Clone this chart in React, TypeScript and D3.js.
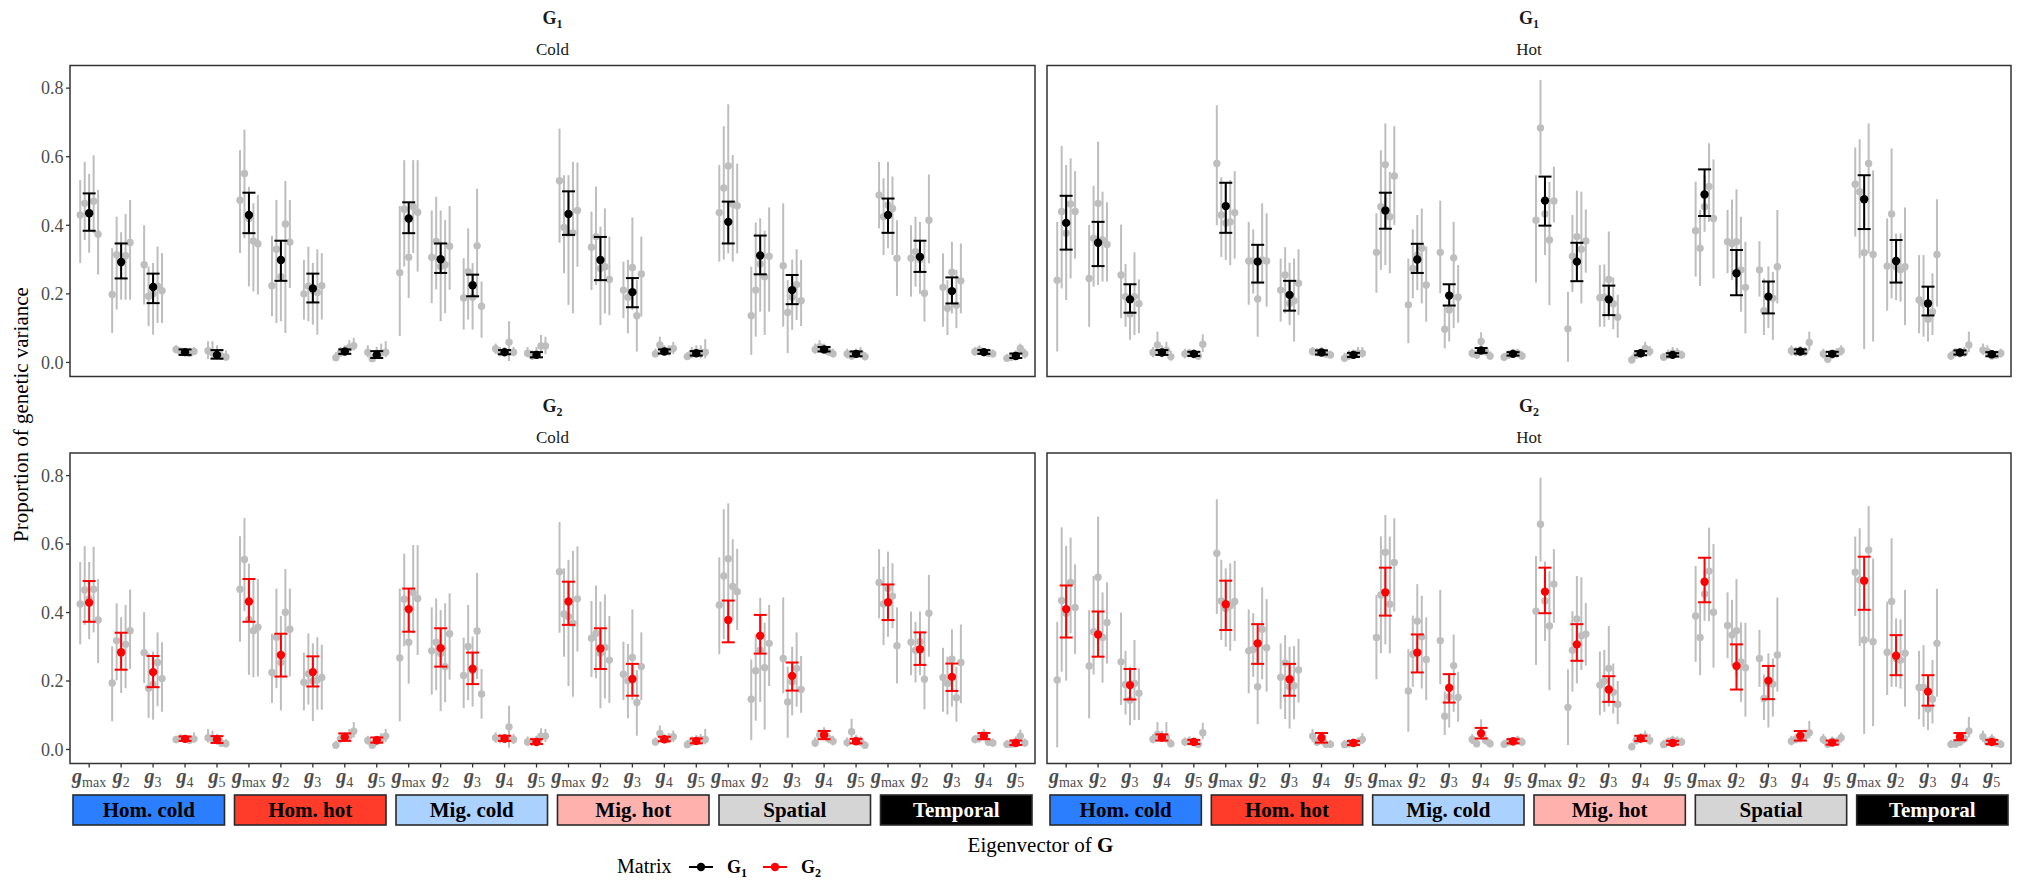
import React from 'react';
import * as d3 from 'd3';

const vectorSubs = ['max', '2', '3', '4', '5'];
const groups = ['Hom. cold', 'Hom. hot', 'Mig. cold', 'Mig. hot', 'Spatial', 'Temporal'];
const groupFill = ['#2B7FFF', '#FF3B29', '#ABD1FF', '#FFB2AD', '#D5D5D5', '#000000'];
const groupTextColor = ['#000000', '#000000', '#000000', '#000000', '#000000', '#FFFFFF'];
const temps = ['Cold', 'Hot'];
const matrices = ['1', '2'];
const matrixColors = ['#000000', '#FF0000'];
const yTicks = [0, 0.2, 0.4, 0.6, 0.8];

type Rep = [number, number, number];

// ---------- G1, Cold ----------
const g1ColdMean = [0.435, 0.293, 0.22, 0.03, 0.022, 0.43, 0.299, 0.216, 0.032, 0.022, 0.42, 0.301, 0.225, 0.03, 0.022, 0.433, 0.299, 0.205, 0.032, 0.027, 0.41, 0.312, 0.211, 0.038, 0.025, 0.43, 0.308, 0.208, 0.03, 0.019];
const g1ColdLo = [0.384, 0.245, 0.173, 0.022, 0.011, 0.377, 0.238, 0.175, 0.025, 0.013, 0.377, 0.261, 0.193, 0.024, 0.015, 0.372, 0.24, 0.161, 0.026, 0.02, 0.347, 0.257, 0.17, 0.032, 0.018, 0.378, 0.264, 0.172, 0.025, 0.013];
const g1ColdHi = [0.493, 0.347, 0.259, 0.038, 0.036, 0.495, 0.355, 0.259, 0.038, 0.033, 0.467, 0.347, 0.256, 0.036, 0.03, 0.499, 0.366, 0.246, 0.038, 0.033, 0.469, 0.37, 0.255, 0.045, 0.032, 0.478, 0.355, 0.248, 0.036, 0.026];
const g1ColdReps: Rep[][] = [
  [[0.43, 0.29, 0.532], [0.464, 0.357, 0.585], [0.437, 0.32, 0.55], [0.47, 0.377, 0.604], [0.374, 0.256, 0.503]],
  [[0.198, 0.086, 0.333], [0.314, 0.154, 0.425], [0.29, 0.183, 0.38], [0.311, 0.183, 0.433], [0.35, 0.183, 0.474]],
  [[0.285, 0.169, 0.4], [0.193, 0.106, 0.28], [0.2, 0.081, 0.29], [0.222, 0.115, 0.338], [0.209, 0.115, 0.319]],
  [[0.038, 0.026, 0.05], [0.032, 0.022, 0.044], [0.029, 0.02, 0.04], [0.026, 0.018, 0.036], [0.032, 0.022, 0.045]],
  [[0.034, 0.01, 0.062], [0.028, 0.01, 0.062], [0.022, 0.008, 0.05], [0.018, 0.008, 0.04], [0.016, 0.006, 0.035]],
  [[0.473, 0.319, 0.619], [0.551, 0.362, 0.679], [0.42, 0.222, 0.512], [0.354, 0.207, 0.464], [0.346, 0.198, 0.488]],
  [[0.224, 0.135, 0.369], [0.33, 0.115, 0.474], [0.25, 0.12, 0.353], [0.404, 0.086, 0.529], [0.351, 0.217, 0.474]],
  [[0.2, 0.125, 0.299], [0.222, 0.12, 0.338], [0.21, 0.11, 0.29], [0.204, 0.081, 0.33], [0.224, 0.125, 0.319]],
  [[0.014, 0.005, 0.03], [0.028, 0.018, 0.045], [0.033, 0.02, 0.05], [0.043, 0.028, 0.065], [0.049, 0.035, 0.072]],
  [[0.03, 0.015, 0.05], [0.011, 0.003, 0.025], [0.026, 0.012, 0.045], [0.028, 0.015, 0.055], [0.03, 0.015, 0.062]],
  [[0.262, 0.077, 0.456], [0.447, 0.28, 0.59], [0.307, 0.188, 0.41], [0.454, 0.319, 0.59], [0.438, 0.265, 0.59]],
  [[0.307, 0.173, 0.443], [0.353, 0.213, 0.483], [0.28, 0.12, 0.443], [0.285, 0.144, 0.415], [0.339, 0.212, 0.456]],
  [[0.188, 0.096, 0.304], [0.265, 0.125, 0.391], [0.19, 0.096, 0.29], [0.34, 0.188, 0.507], [0.164, 0.072, 0.236]],
  [[0.04, 0.025, 0.055], [0.03, 0.018, 0.045], [0.028, 0.015, 0.045], [0.059, 0.004, 0.12], [0.03, 0.018, 0.045]],
  [[0.027, 0.015, 0.045], [0.019, 0.008, 0.035], [0.025, 0.01, 0.045], [0.048, 0.03, 0.08], [0.048, 0.025, 0.075]],
  [[0.53, 0.349, 0.682], [0.394, 0.26, 0.546], [0.377, 0.168, 0.546], [0.378, 0.143, 0.585], [0.443, 0.279, 0.583]],
  [[0.336, 0.211, 0.44], [0.367, 0.226, 0.513], [0.274, 0.109, 0.396], [0.279, 0.143, 0.449], [0.242, 0.138, 0.367]],
  [[0.211, 0.129, 0.294], [0.19, 0.085, 0.299], [0.277, 0.153, 0.423], [0.136, 0.032, 0.24], [0.258, 0.134, 0.367]],
  [[0.025, 0.015, 0.04], [0.051, 0.03, 0.075], [0.033, 0.02, 0.05], [0.036, 0.02, 0.05], [0.041, 0.025, 0.06]],
  [[0.017, 0.008, 0.03], [0.027, 0.012, 0.045], [0.03, 0.015, 0.05], [0.03, 0.012, 0.05], [0.03, 0.012, 0.068]],
  [[0.437, 0.294, 0.576], [0.509, 0.3, 0.689], [0.573, 0.318, 0.753], [0.462, 0.294, 0.605], [0.457, 0.318, 0.58]],
  [[0.136, 0.022, 0.279], [0.211, 0.075, 0.408], [0.287, 0.148, 0.42], [0.25, 0.08, 0.384], [0.31, 0.148, 0.452]],
  [[0.282, 0.104, 0.464], [0.146, 0.027, 0.24], [0.19, 0.095, 0.3], [0.227, 0.124, 0.33], [0.18, 0.106, 0.299]],
  [[0.038, 0.025, 0.055], [0.046, 0.03, 0.065], [0.04, 0.025, 0.055], [0.031, 0.02, 0.045], [0.025, 0.015, 0.04]],
  [[0.025, 0.012, 0.04], [0.019, 0.008, 0.035], [0.025, 0.012, 0.04], [0.027, 0.014, 0.045], [0.017, 0.006, 0.03]],
  [[0.488, 0.391, 0.585], [0.425, 0.313, 0.537], [0.459, 0.333, 0.585], [0.449, 0.313, 0.542], [0.304, 0.194, 0.415]],
  [[0.304, 0.192, 0.4], [0.323, 0.221, 0.425], [0.3, 0.2, 0.41], [0.202, 0.119, 0.352], [0.415, 0.289, 0.548]],
  [[0.219, 0.104, 0.318], [0.158, 0.08, 0.24], [0.263, 0.143, 0.352], [0.167, 0.1, 0.27], [0.238, 0.143, 0.347]],
  [[0.031, 0.02, 0.045], [0.036, 0.022, 0.05], [0.029, 0.018, 0.042], [0.027, 0.016, 0.04], [0.025, 0.015, 0.038]],
  [[0.012, 0.004, 0.025], [0.015, 0.006, 0.028], [0.022, 0.01, 0.035], [0.041, 0.028, 0.055], [0.025, 0.012, 0.04]],
];

// ---------- G1, Hot ----------
const g1HotMean = [0.407, 0.349, 0.184, 0.029, 0.025, 0.456, 0.294, 0.197, 0.029, 0.022, 0.443, 0.3, 0.195, 0.035, 0.025, 0.472, 0.294, 0.184, 0.027, 0.022, 0.49, 0.26, 0.192, 0.032, 0.025, 0.476, 0.296, 0.172, 0.029, 0.024];
const g1HotLo = [0.329, 0.281, 0.145, 0.022, 0.019, 0.378, 0.233, 0.151, 0.023, 0.016, 0.39, 0.261, 0.166, 0.028, 0.02, 0.399, 0.237, 0.138, 0.021, 0.017, 0.427, 0.196, 0.143, 0.026, 0.019, 0.389, 0.233, 0.137, 0.023, 0.018];
const g1HotHi = [0.486, 0.41, 0.228, 0.036, 0.031, 0.524, 0.343, 0.238, 0.035, 0.028, 0.495, 0.346, 0.228, 0.042, 0.03, 0.542, 0.349, 0.224, 0.033, 0.027, 0.563, 0.328, 0.236, 0.038, 0.031, 0.546, 0.357, 0.221, 0.035, 0.03];
const g1HotReps: Rep[][] = [
  [[0.24, 0.032, 0.41], [0.44, 0.216, 0.631], [0.377, 0.182, 0.576], [0.462, 0.245, 0.595], [0.44, 0.303, 0.558]],
  [[0.245, 0.104, 0.401], [0.362, 0.221, 0.515], [0.464, 0.226, 0.644], [0.357, 0.236, 0.498], [0.344, 0.236, 0.467]],
  [[0.255, 0.129, 0.402], [0.192, 0.104, 0.287], [0.141, 0.066, 0.226], [0.192, 0.08, 0.321], [0.171, 0.085, 0.242]],
  [[0.029, 0.015, 0.045], [0.051, 0.03, 0.09], [0.03, 0.015, 0.05], [0.036, 0.02, 0.06], [0.017, 0.005, 0.035]],
  [[0.025, 0.012, 0.04], [0.027, 0.015, 0.04], [0.024, 0.012, 0.038], [0.019, 0.008, 0.032], [0.053, 0.03, 0.082]],
  [[0.58, 0.4, 0.75], [0.43, 0.308, 0.54], [0.407, 0.299, 0.517], [0.41, 0.284, 0.532], [0.437, 0.303, 0.558]],
  [[0.296, 0.168, 0.41], [0.296, 0.201, 0.388], [0.185, 0.075, 0.294], [0.299, 0.231, 0.464], [0.296, 0.163, 0.435]],
  [[0.211, 0.119, 0.303], [0.255, 0.143, 0.336], [0.172, 0.109, 0.291], [0.18, 0.061, 0.303], [0.231, 0.138, 0.33]],
  [[0.032, 0.02, 0.045], [0.029, 0.018, 0.042], [0.032, 0.02, 0.045], [0.025, 0.014, 0.04], [0.022, 0.012, 0.035]],
  [[0.012, 0.004, 0.028], [0.019, 0.008, 0.035], [0.022, 0.01, 0.038], [0.027, 0.014, 0.045], [0.027, 0.014, 0.045]],
  [[0.321, 0.203, 0.435], [0.454, 0.27, 0.619], [0.577, 0.284, 0.697], [0.425, 0.26, 0.556], [0.544, 0.401, 0.689]],
  [[0.168, 0.056, 0.303], [0.274, 0.187, 0.388], [0.313, 0.211, 0.43], [0.333, 0.172, 0.449], [0.226, 0.119, 0.338]],
  [[0.321, 0.202, 0.472], [0.097, 0.041, 0.168], [0.153, 0.061, 0.221], [0.305, 0.1, 0.41], [0.19, 0.116, 0.284]],
  [[0.027, 0.014, 0.04], [0.022, 0.01, 0.035], [0.061, 0.035, 0.088], [0.032, 0.02, 0.045], [0.019, 0.008, 0.032]],
  [[0.015, 0.005, 0.028], [0.022, 0.01, 0.035], [0.027, 0.015, 0.04], [0.027, 0.015, 0.04], [0.019, 0.008, 0.032]],
  [[0.415, 0.233, 0.546], [0.684, 0.548, 0.824], [0.433, 0.313, 0.52], [0.357, 0.167, 0.527], [0.471, 0.408, 0.571]],
  [[0.098, 0.002, 0.206], [0.31, 0.206, 0.43], [0.367, 0.242, 0.501], [0.33, 0.172, 0.498], [0.354, 0.262, 0.446]],
  [[0.189, 0.104, 0.284], [0.19, 0.104, 0.286], [0.242, 0.124, 0.382], [0.171, 0.097, 0.248], [0.132, 0.072, 0.197]],
  [[0.007, 0.0, 0.02], [0.022, 0.01, 0.035], [0.027, 0.014, 0.04], [0.041, 0.028, 0.06], [0.032, 0.018, 0.048]],
  [[0.015, 0.006, 0.028], [0.022, 0.01, 0.038], [0.027, 0.014, 0.045], [0.027, 0.014, 0.042], [0.022, 0.01, 0.035]],
  [[0.384, 0.25, 0.527], [0.333, 0.223, 0.445], [0.454, 0.381, 0.546], [0.513, 0.41, 0.639], [0.42, 0.245, 0.592]],
  [[0.352, 0.26, 0.445], [0.347, 0.24, 0.475], [0.352, 0.22, 0.505], [0.27, 0.148, 0.425], [0.219, 0.085, 0.352]],
  [[0.27, 0.192, 0.354], [0.151, 0.08, 0.245], [0.192, 0.1, 0.28], [0.187, 0.066, 0.264], [0.279, 0.172, 0.445]],
  [[0.034, 0.02, 0.05], [0.031, 0.018, 0.045], [0.032, 0.018, 0.048], [0.031, 0.018, 0.045], [0.058, 0.035, 0.09]],
  [[0.025, 0.012, 0.04], [0.009, 0.002, 0.02], [0.022, 0.01, 0.035], [0.027, 0.014, 0.042], [0.034, 0.02, 0.05]],
  [[0.52, 0.367, 0.627], [0.498, 0.304, 0.651], [0.32, 0.039, 0.42], [0.58, 0.318, 0.697], [0.315, 0.061, 0.56]],
  [[0.281, 0.151, 0.42], [0.433, 0.187, 0.624], [0.279, 0.182, 0.376], [0.27, 0.177, 0.376], [0.279, 0.109, 0.452]],
  [[0.182, 0.085, 0.313], [0.172, 0.075, 0.313], [0.126, 0.061, 0.221], [0.148, 0.08, 0.26], [0.315, 0.163, 0.476]],
  [[0.019, 0.008, 0.032], [0.029, 0.016, 0.042], [0.027, 0.014, 0.04], [0.029, 0.016, 0.045], [0.051, 0.03, 0.09]],
  [[0.036, 0.022, 0.055], [0.032, 0.018, 0.05], [0.019, 0.008, 0.032], [0.022, 0.01, 0.035], [0.027, 0.014, 0.04]],
];

// ---------- G2, Cold ----------
const g2ColdMean = [0.429, 0.284, 0.226, 0.031, 0.029, 0.432, 0.276, 0.226, 0.036, 0.027, 0.41, 0.296, 0.236, 0.032, 0.022, 0.432, 0.295, 0.206, 0.03, 0.025, 0.378, 0.332, 0.215, 0.042, 0.024, 0.43, 0.293, 0.212, 0.039, 0.019];
const g2ColdLo = [0.373, 0.233, 0.182, 0.025, 0.019, 0.373, 0.213, 0.184, 0.025, 0.02, 0.344, 0.242, 0.191, 0.025, 0.016, 0.364, 0.235, 0.157, 0.024, 0.018, 0.313, 0.28, 0.172, 0.03, 0.018, 0.378, 0.247, 0.171, 0.03, 0.013];
const g2ColdHi = [0.492, 0.341, 0.273, 0.038, 0.039, 0.498, 0.338, 0.272, 0.047, 0.035, 0.47, 0.354, 0.283, 0.04, 0.03, 0.49, 0.354, 0.25, 0.037, 0.032, 0.435, 0.393, 0.254, 0.054, 0.031, 0.482, 0.342, 0.251, 0.048, 0.026];
const g2ColdReps: Rep[][] = [
  [[0.425, 0.307, 0.548], [0.466, 0.364, 0.594], [0.44, 0.322, 0.548], [0.468, 0.342, 0.592], [0.378, 0.252, 0.498]],
  [[0.194, 0.082, 0.301], [0.318, 0.202, 0.427], [0.28, 0.165, 0.386], [0.307, 0.179, 0.422], [0.347, 0.235, 0.467]],
  [[0.283, 0.194, 0.401], [0.179, 0.092, 0.281], [0.19, 0.087, 0.286], [0.254, 0.126, 0.342], [0.207, 0.11, 0.313]],
  [[0.029, 0.018, 0.04], [0.032, 0.022, 0.045], [0.03, 0.02, 0.042], [0.027, 0.016, 0.04], [0.031, 0.02, 0.05]],
  [[0.034, 0.02, 0.06], [0.031, 0.016, 0.055], [0.027, 0.014, 0.045], [0.019, 0.008, 0.035], [0.017, 0.006, 0.03]],
  [[0.468, 0.315, 0.623], [0.555, 0.404, 0.676], [0.38, 0.218, 0.543], [0.347, 0.211, 0.498], [0.357, 0.213, 0.498]],
  [[0.225, 0.136, 0.338], [0.328, 0.179, 0.47], [0.254, 0.114, 0.39], [0.401, 0.213, 0.527], [0.351, 0.213, 0.47]],
  [[0.196, 0.114, 0.283], [0.221, 0.131, 0.339], [0.2, 0.083, 0.31], [0.204, 0.116, 0.328], [0.21, 0.116, 0.306]],
  [[0.012, 0.004, 0.025], [0.031, 0.018, 0.045], [0.036, 0.022, 0.05], [0.039, 0.025, 0.06], [0.053, 0.035, 0.08]],
  [[0.026, 0.014, 0.04], [0.012, 0.004, 0.025], [0.025, 0.012, 0.04], [0.031, 0.016, 0.048], [0.039, 0.022, 0.06]],
  [[0.267, 0.082, 0.47], [0.439, 0.301, 0.572], [0.313, 0.192, 0.417], [0.458, 0.339, 0.597], [0.441, 0.276, 0.597]],
  [[0.288, 0.16, 0.415], [0.313, 0.173, 0.441], [0.28, 0.112, 0.407], [0.242, 0.138, 0.427], [0.338, 0.204, 0.456]],
  [[0.216, 0.121, 0.327], [0.301, 0.144, 0.422], [0.23, 0.125, 0.33], [0.346, 0.206, 0.516], [0.162, 0.09, 0.235]],
  [[0.034, 0.02, 0.05], [0.031, 0.018, 0.045], [0.03, 0.018, 0.045], [0.066, 0.005, 0.128], [0.029, 0.016, 0.045]],
  [[0.022, 0.01, 0.038], [0.022, 0.01, 0.035], [0.025, 0.012, 0.04], [0.039, 0.022, 0.062], [0.039, 0.022, 0.06]],
  [[0.519, 0.341, 0.664], [0.396, 0.271, 0.529], [0.388, 0.185, 0.554], [0.368, 0.154, 0.58], [0.44, 0.286, 0.593]],
  [[0.325, 0.212, 0.434], [0.339, 0.208, 0.479], [0.281, 0.12, 0.432], [0.298, 0.149, 0.453], [0.261, 0.136, 0.39]],
  [[0.22, 0.144, 0.315], [0.201, 0.091, 0.308], [0.269, 0.144, 0.409], [0.137, 0.04, 0.232], [0.242, 0.144, 0.342]],
  [[0.022, 0.012, 0.035], [0.047, 0.03, 0.07], [0.03, 0.018, 0.045], [0.032, 0.018, 0.048], [0.037, 0.022, 0.055]],
  [[0.014, 0.005, 0.028], [0.022, 0.01, 0.038], [0.025, 0.012, 0.042], [0.029, 0.015, 0.045], [0.029, 0.015, 0.06]],
  [[0.422, 0.278, 0.561], [0.507, 0.322, 0.702], [0.557, 0.359, 0.719], [0.476, 0.378, 0.614], [0.461, 0.349, 0.586]],
  [[0.147, 0.027, 0.263], [0.23, 0.084, 0.336], [0.29, 0.139, 0.443], [0.239, 0.058, 0.37], [0.31, 0.185, 0.422]],
  [[0.266, 0.164, 0.444], [0.139, 0.034, 0.242], [0.198, 0.1, 0.3], [0.237, 0.125, 0.342], [0.175, 0.107, 0.273]],
  [[0.019, 0.008, 0.035], [0.042, 0.028, 0.058], [0.049, 0.032, 0.065], [0.032, 0.018, 0.048], [0.024, 0.012, 0.04]],
  [[0.02, 0.008, 0.035], [0.052, 0.035, 0.09], [0.027, 0.014, 0.042], [0.022, 0.01, 0.038], [0.012, 0.004, 0.025]],
  [[0.488, 0.383, 0.585], [0.425, 0.305, 0.534], [0.47, 0.329, 0.578], [0.448, 0.354, 0.544], [0.303, 0.193, 0.415]],
  [[0.313, 0.217, 0.403], [0.29, 0.196, 0.373], [0.315, 0.217, 0.403], [0.205, 0.117, 0.341], [0.398, 0.271, 0.51]],
  [[0.21, 0.11, 0.297], [0.193, 0.102, 0.271], [0.264, 0.125, 0.351], [0.151, 0.081, 0.242], [0.254, 0.135, 0.365]],
  [[0.029, 0.018, 0.042], [0.034, 0.02, 0.048], [0.044, 0.03, 0.06], [0.022, 0.01, 0.035], [0.019, 0.008, 0.032]],
  [[0.015, 0.006, 0.028], [0.015, 0.006, 0.03], [0.022, 0.01, 0.038], [0.039, 0.025, 0.058], [0.019, 0.008, 0.032]],
];

// ---------- G2, Hot ----------
const g2HotMean = [0.41, 0.336, 0.188, 0.035, 0.022, 0.424, 0.31, 0.205, 0.034, 0.019, 0.459, 0.283, 0.18, 0.047, 0.024, 0.461, 0.307, 0.175, 0.032, 0.019, 0.49, 0.244, 0.201, 0.04, 0.02, 0.493, 0.274, 0.169, 0.037, 0.022];
const g2HotLo = [0.327, 0.271, 0.146, 0.026, 0.016, 0.349, 0.25, 0.157, 0.02, 0.013, 0.391, 0.225, 0.137, 0.032, 0.018, 0.398, 0.259, 0.139, 0.025, 0.014, 0.43, 0.175, 0.147, 0.026, 0.014, 0.408, 0.217, 0.128, 0.027, 0.016];
const g2HotHi = [0.479, 0.403, 0.235, 0.044, 0.028, 0.493, 0.366, 0.25, 0.048, 0.025, 0.531, 0.336, 0.22, 0.063, 0.03, 0.531, 0.366, 0.214, 0.04, 0.025, 0.56, 0.307, 0.244, 0.054, 0.026, 0.563, 0.334, 0.217, 0.048, 0.028];
const g2HotReps: Rep[][] = [
  [[0.203, 0.006, 0.373], [0.435, 0.227, 0.649], [0.398, 0.201, 0.595], [0.488, 0.339, 0.619], [0.415, 0.279, 0.541]],
  [[0.244, 0.091, 0.407], [0.344, 0.219, 0.507], [0.503, 0.305, 0.68], [0.327, 0.195, 0.459], [0.371, 0.251, 0.488]],
  [[0.256, 0.13, 0.4], [0.19, 0.102, 0.288], [0.144, 0.071, 0.242], [0.193, 0.086, 0.32], [0.164, 0.086, 0.237]],
  [[0.03, 0.018, 0.045], [0.044, 0.028, 0.08], [0.036, 0.022, 0.055], [0.034, 0.02, 0.08], [0.017, 0.006, 0.03]],
  [[0.022, 0.01, 0.035], [0.024, 0.012, 0.038], [0.022, 0.01, 0.035], [0.015, 0.006, 0.028], [0.049, 0.03, 0.078]],
  [[0.573, 0.396, 0.731], [0.434, 0.32, 0.554], [0.412, 0.3, 0.529], [0.42, 0.288, 0.544], [0.432, 0.317, 0.551]],
  [[0.288, 0.164, 0.409], [0.292, 0.212, 0.398], [0.183, 0.074, 0.308], [0.351, 0.205, 0.474], [0.297, 0.169, 0.439]],
  [[0.211, 0.118, 0.31], [0.253, 0.089, 0.334], [0.183, 0.061, 0.3], [0.186, 0.088, 0.302], [0.232, 0.137, 0.323]],
  [[0.039, 0.022, 0.06], [0.022, 0.01, 0.035], [0.027, 0.014, 0.04], [0.015, 0.005, 0.03], [0.015, 0.005, 0.028]],
  [[0.014, 0.005, 0.028], [0.017, 0.006, 0.03], [0.019, 0.008, 0.032], [0.022, 0.01, 0.035], [0.029, 0.016, 0.048]],
  [[0.327, 0.205, 0.451], [0.451, 0.281, 0.622], [0.576, 0.307, 0.685], [0.424, 0.281, 0.622], [0.546, 0.403, 0.675]],
  [[0.171, 0.052, 0.293], [0.278, 0.183, 0.391], [0.375, 0.227, 0.483], [0.329, 0.178, 0.449], [0.263, 0.144, 0.386]],
  [[0.318, 0.191, 0.466], [0.097, 0.042, 0.169], [0.154, 0.064, 0.222], [0.245, 0.11, 0.336], [0.152, 0.081, 0.227]],
  [[0.029, 0.016, 0.045], [0.017, 0.006, 0.03], [0.049, 0.03, 0.088], [0.027, 0.014, 0.042], [0.017, 0.006, 0.03]],
  [[0.015, 0.006, 0.028], [0.022, 0.01, 0.035], [0.022, 0.01, 0.035], [0.027, 0.014, 0.04], [0.022, 0.01, 0.035]],
  [[0.404, 0.247, 0.565], [0.658, 0.549, 0.794], [0.434, 0.317, 0.549], [0.361, 0.173, 0.521], [0.483, 0.37, 0.585]],
  [[0.123, 0.013, 0.234], [0.29, 0.169, 0.404], [0.381, 0.193, 0.507], [0.332, 0.232, 0.503], [0.337, 0.245, 0.428]],
  [[0.188, 0.1, 0.286], [0.2, 0.11, 0.291], [0.237, 0.125, 0.361], [0.167, 0.105, 0.251], [0.132, 0.074, 0.2]],
  [[0.008, 0.0, 0.02], [0.027, 0.014, 0.042], [0.032, 0.018, 0.048], [0.037, 0.022, 0.055], [0.027, 0.014, 0.045]],
  [[0.014, 0.005, 0.028], [0.022, 0.01, 0.035], [0.027, 0.014, 0.04], [0.024, 0.012, 0.038], [0.022, 0.01, 0.035]],
  [[0.39, 0.256, 0.536], [0.327, 0.217, 0.427], [0.454, 0.376, 0.524], [0.521, 0.375, 0.648], [0.401, 0.239, 0.6]],
  [[0.362, 0.266, 0.459], [0.334, 0.245, 0.437], [0.347, 0.214, 0.498], [0.256, 0.139, 0.371], [0.239, 0.096, 0.37]],
  [[0.266, 0.183, 0.349], [0.149, 0.086, 0.219], [0.193, 0.064, 0.281], [0.191, 0.096, 0.266], [0.276, 0.169, 0.444]],
  [[0.024, 0.012, 0.04], [0.03, 0.018, 0.045], [0.034, 0.02, 0.05], [0.039, 0.025, 0.058], [0.049, 0.032, 0.083]],
  [[0.029, 0.016, 0.045], [0.015, 0.006, 0.028], [0.024, 0.012, 0.038], [0.022, 0.01, 0.035], [0.034, 0.02, 0.05]],
  [[0.518, 0.39, 0.622], [0.495, 0.302, 0.646], [0.32, 0.045, 0.422], [0.583, 0.315, 0.711], [0.315, 0.068, 0.558]],
  [[0.284, 0.159, 0.432], [0.432, 0.183, 0.617], [0.266, 0.183, 0.383], [0.261, 0.178, 0.38], [0.281, 0.125, 0.466]],
  [[0.181, 0.088, 0.288], [0.181, 0.066, 0.305], [0.118, 0.057, 0.188], [0.147, 0.076, 0.261], [0.31, 0.154, 0.469]],
  [[0.015, 0.006, 0.028], [0.016, 0.006, 0.03], [0.022, 0.01, 0.035], [0.032, 0.018, 0.048], [0.054, 0.035, 0.095]],
  [[0.037, 0.022, 0.055], [0.022, 0.01, 0.035], [0.029, 0.016, 0.045], [0.019, 0.008, 0.032], [0.015, 0.006, 0.028]],
];

const panelData = [
  { row: 0, col: 0, mean: g1ColdMean, lo: g1ColdLo, hi: g1ColdHi, reps: g1ColdReps },
  { row: 0, col: 1, mean: g1HotMean, lo: g1HotLo, hi: g1HotHi, reps: g1HotReps },
  { row: 1, col: 0, mean: g2ColdMean, lo: g2ColdLo, hi: g2ColdHi, reps: g2ColdReps },
  { row: 1, col: 1, mean: g2HotMean, lo: g2HotLo, hi: g2HotHi, reps: g2HotReps },
];

const SERIF = "'Liberation Serif', 'Times New Roman', Times, serif";
const GREY = '#BEBEBE';
const AXIS_TEXT = '#4D4D4D';

export default function App() {
  const W = 2022;
  const H = 881;
  const cols = [{ x0: 70, x1: 1035 }, { x0: 1047, x1: 2011 }];
  const rows = [{ y0: 65.5, y1: 376.5 }, { y0: 453, y1: 763.5 }];
  const ids = d3.range(groups.length * vectorSubs.length);

  const panels = panelData.map((p) => {
    const c = cols[p.col];
    const r = rows[p.row];
    const x = d3.scalePoint<number>().domain(ids).range([c.x0, c.x1]).padding(0.6);
    const y = d3.scaleLinear().domain([-0.041, 0.866]).range([r.y1, r.y0]);
    return { ...p, c, r, x, y, color: matrixColors[p.row] };
  });

  const fmt = d3.format('.1f');

  return (
    <svg width={W} height={H} style={{ position: 'absolute', left: 0, top: 0, background: '#fff' }} fontFamily={SERIF}>
      <rect x={0} y={0} width={W} height={H} fill="#ffffff" />
      {panels.map((p, pi) => {
        const step = p.x.step();
        const dodge = step * 0.14;
        const cx = (p.c.x0 + p.c.x1) / 2;
        return (
          <g key={pi}>
            {/* strip labels */}
            <text x={cx} y={p.r.y0 - 41.5} textAnchor="middle" fontSize={18} fontWeight="bold" fill="#1A1A1A">
              <tspan>G</tspan>
              <tspan fontSize={12} dy={4}>{matrices[p.row]}</tspan>
            </text>
            <text x={cx} y={p.r.y0 - 10.5} textAnchor="middle" fontSize={17} fill="#1A1A1A">{temps[p.col]}</text>

            {/* replicate intervals */}
            {ids.map((i) =>
              p.reps[i].map((rp, j) => {
                const xx = (p.x(i) as number) + (j - 2) * dodge;
                return (
                  <g key={`r${i}-${j}`}>
                    <line x1={xx} x2={xx} y1={p.y(rp[1])} y2={p.y(rp[2])} stroke={GREY} strokeWidth={2} />
                  </g>
                );
              })
            )}
            {ids.map((i) =>
              p.reps[i].map((rp, j) => {
                const xx = (p.x(i) as number) + (j - 2) * dodge;
                return <circle key={`p${i}-${j}`} cx={xx} cy={p.y(rp[0])} r={3.7} fill={GREY} />;
              })
            )}

            {/* summary error bars */}
            {ids.map((i) => {
              const xx = p.x(i) as number;
              return (
                <g key={`m${i}`}>
                  <line x1={xx} x2={xx} y1={p.y(p.lo[i])} y2={p.y(p.hi[i])} stroke={p.color} strokeWidth={2} />
                  <line x1={xx - 6.5} x2={xx + 6.5} y1={p.y(p.lo[i])} y2={p.y(p.lo[i])} stroke={p.color} strokeWidth={2} />
                  <line x1={xx - 6.5} x2={xx + 6.5} y1={p.y(p.hi[i])} y2={p.y(p.hi[i])} stroke={p.color} strokeWidth={2} />
                  <circle cx={xx} cy={p.y(p.mean[i])} r={4.2} fill={p.color} />
                </g>
              );
            })}

            {/* panel border */}
            <rect x={p.c.x0} y={p.r.y0} width={p.c.x1 - p.c.x0} height={p.r.y1 - p.r.y0} fill="none" stroke="#333333" strokeWidth={1.5} />

            {/* y axis (left column only) */}
            {p.col === 0 &&
              yTicks.map((t) => (
                <g key={`yt${t}`}>
                  <line x1={p.c.x0 - 4} x2={p.c.x0} y1={p.y(t)} y2={p.y(t)} stroke="#333333" strokeWidth={1.3} />
                  <text x={p.c.x0 - 6.5} y={p.y(t)} dy="0.35em" textAnchor="end" fontSize={18} fill={AXIS_TEXT}>
                    {fmt(t)}
                  </text>
                </g>
              ))}

            {/* x axis (bottom row only) */}
            {p.row === 1 &&
              ids.map((i) => {
                const xx = p.x(i) as number;
                const sub = vectorSubs[i % vectorSubs.length];
                return (
                  <g key={`xt${i}`}>
                    <line x1={xx} x2={xx} y1={p.r.y1} y2={p.r.y1 + 4} stroke="#333333" strokeWidth={1.3} />
                    <text x={xx} y={783} textAnchor="middle" fill={AXIS_TEXT} fontSize={20}>
                      <tspan fontStyle="italic" fontWeight="bold">g</tspan>
                      <tspan fontSize={14} dy={4}>{sub}</tspan>
                    </text>
                  </g>
                );
              })}

            {/* group boxes */}
            {p.row === 1 &&
              groups.map((gname, gi) => {
                const margin = 3;
                const gap = 10;
                const width = p.c.x1 - p.c.x0;
                const bw = (width - 2 * margin - 5 * gap) / 6;
                const bx = p.c.x0 + margin + gi * (bw + gap);
                return (
                  <g key={`gb${gi}`}>
                    <rect x={bx} y={795} width={bw} height={30} fill={groupFill[gi]} stroke="#2A2A2A" strokeWidth={1.6} />
                    <text x={bx + bw / 2} y={817} textAnchor="middle" fontSize={21} fontWeight="bold" fill={groupTextColor[gi]}>
                      {gname}
                    </text>
                  </g>
                );
              })}
          </g>
        );
      })}

      {/* y axis title */}
      <text transform={`translate(28, ${(rows[0].y0 + rows[1].y1) / 2}) rotate(-90)`} textAnchor="middle" fontSize={21} fill="#000">
        Proportion of genetic variance
      </text>

      {/* x axis title */}
      <text x={(cols[0].x0 + cols[1].x1) / 2} y={852} textAnchor="middle" fontSize={21} fill="#000">
        <tspan>Eigenvector of </tspan>
        <tspan fontWeight="bold">G</tspan>
      </text>

      {/* legend */}
      <g>
        <text x={617} y={873} fontSize={20} fill="#000">Matrix</text>
        {matrices.map((m, mi) => {
          const kx = 701 + mi * 74;
          return (
            <g key={`lg${mi}`}>
              <line x1={kx - 12} x2={kx + 12} y1={867} y2={867} stroke={matrixColors[mi]} strokeWidth={2} />
              <circle cx={kx} cy={867} r={4.2} fill={matrixColors[mi]} />
              <text x={kx + 26} y={873} fontSize={18} fontWeight="bold" fill="#000">
                <tspan>G</tspan>
                <tspan fontSize={12} dy={4}>{m}</tspan>
              </text>
            </g>
          );
        })}
      </g>
    </svg>
  );
}
